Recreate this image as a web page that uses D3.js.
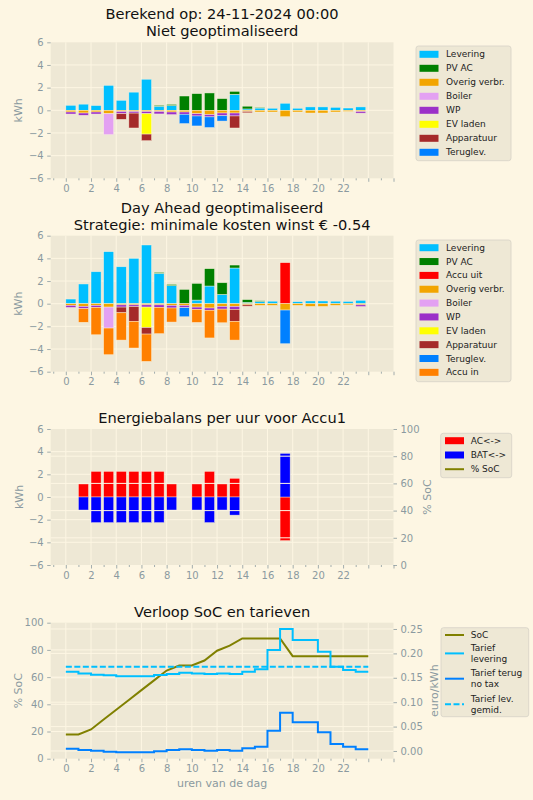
<!DOCTYPE html>
<html>
<head>
<meta charset="utf-8">
<script src="https://cdn.jsdelivr.net/npm/d3@7"></script>
<style>
body { margin: 0; background: #fdf6e3; }
text { font-family: "DejaVu Sans", sans-serif; }
</style>
</head>
<body>
<script>
// gegevens per uur
var uren = [0,1,2,3,4,5,6,7,8,9,10,11,12,13,14,15,16,17,18,19,20,21,22,23]

// Niet geoptimaliseerd (kWh)
var levering1  = [0.44,0.54,0.42,2.2,0.88,1.6,2.74,0.36,0.42,0,0,0,0,1.41,0.12,0.2,0.18,0.62,0.18,0.3,0.3,0.26,0.2,0.3]
var pvAC       = [0,0,0,0,0,0,0,0.08,0.1,1.26,1.47,1.53,1.03,0.26,0.24,0.06,0,0,0,0,0,0,0,0]
var overig     = [0.15,0.24,0.15,0.3,0.1,0.1,0.1,0.1,0.15,0.15,0.3,0.38,0.24,0.24,0.1,0.15,0.15,0.56,0.15,0.24,0.24,0.15,0.1,0.1]
var boiler     = [0,0,0,1.85,0,0,0,0,0,0,0,0,0,0,0,0,0,0,0,0,0,0,0,0]
var wp         = [0.18,0.2,0.18,0,0.2,0.15,0.2,0.22,0.23,0.2,0.2,0.2,0.24,0.26,0,0,0,0,0,0,0,0,0,0.15]
var evLaden    = [0,0,0,0,0,0,1.8,0,0,0,0,0,0,0,0,0,0,0,0,0,0,0,0,0]
var apparatuur = [0,0,0,0,0.5,1.31,0.58,0,0,0,0,0,0,1.06,0.12,0,0,0,0,0,0,0,0,0]
var teruglev1  = [0,0,0,0,0,0,0,0,0,0.82,0.88,0.94,0.47,0,0,0,0,0,0,0,0,0,0,0]

// Day Ahead geoptimaliseerd (kWh)
var levering2  = [0.41,1.74,2.82,4.59,3.26,4.0,5.18,2.68,1.6,0,0.32,1.56,0.82,3.15,0.12,0.2,0.22,0,0.18,0.24,0.24,0.22,0.2,0.3]
var accuUit    = [0,0,0,0,0,0,0,0,0,0,0,0,0,0,0,0,0,3.62,0,0,0,0,0,0]
var teruglev2  = [0,0,0,0,0,0,0,0,0,0.8,0,0,0,0,0,0,0,2.97,0,0,0,0,0,0]
var accuIn     = [0,1.2,2.41,2.35,2.41,2.35,2.41,2.32,1.24,0,1.15,2.44,1.2,1.65,0,0,0,0,0,0,0,0,0,0]

// Energiebalans Accu1 (kWh)
var acBal  = [0,1.15,2.26,2.26,2.26,2.26,2.26,2.26,1.15,0,1.15,2.26,1.15,1.65,0,0,0,-3.85,0,0,0,0,0,0]
var batBal = [0,-1.15,-2.26,-2.26,-2.26,-2.26,-2.26,-2.26,-1.15,0,-1.15,-2.26,-1.15,-1.6,0,0,0,3.85,0,0,0,0,0,0]

// SoC (%) op uurgrenzen 0..24
var socUren = [0,1,2,3,4,5,6,7,8,9,10,11,12,13,14,15,16,17,18,19,20,21,22,23,24]
var soc = [17.8,17.8,21.5,28.8,36,43.2,50.4,57.6,64.8,68.5,68.5,72.2,79.4,83.1,88.4,88.4,88.4,88.4,75.4,75.4,75.4,75.4,75.4,75.4,75.4]

// tarieven (euro/kWh)
var tariefLev   = [0.1626,0.159,0.1564,0.155,0.153,0.153,0.153,0.1557,0.1578,0.1605,0.159,0.1578,0.159,0.1578,0.1626,0.1673,0.207,0.25,0.2275,0.2275,0.2036,0.1728,0.166,0.1626]
var tariefTerug = [0.0048,0.002,0.0007,-0.0014,-0.0027,-0.0027,-0.0027,-0.0007,0.002,0.0034,0.002,0.0007,0.002,0.0007,0.0055,0.0089,0.0417,0.0786,0.0587,0.0587,0.0383,0.0143,0.0089,0.0034]
var tariefGem = 0.1728

var kwhTicks = [-6,-4,-2,0,2,4,6]
var pctTicks = [0,20,40,60,80,100]
var euroTicks = [0,0.05,0.1,0.15,0.2,0.25]
var xMajor = [0,2,4,6,8,10,12,14,16,18,20,22,24,26]
var xMinor = [-1,1,3,5,7,9,11,13,15,17,19,21,23,25]

// kleuren
var kleur = {
    'Levering': '#00bfff', 'PV AC': '#008000', 'Accu uit': '#ff0000',
    'Overig verbr.': '#f2a500', 'Boiler': '#e3a1f2', 'WP': '#9b30c8',
    'EV laden': '#ffff00', 'Apparatuur': '#a52a2a', 'Teruglev.': '#0080ff',
    'Accu in': '#ff8000'
}
var grijs = '#8b9aa0'

//lienzo
var W = 533, H = 800
var left = 50.7, right = 393.5
var svg = d3.select('body').append('svg')
    .attr('width', W).attr('height', H)
    .style('background', '#fdf6e3')

var x = d3.scaleLinear().domain([-1.2, 26]).range([left, right])

function makePanel(top, bottom) {
    var g = svg.append('g')
    g.append('rect')
        .attr('x', left).attr('y', top)
        .attr('width', right - left).attr('height', bottom - top)
        .attr('fill', '#eee8d5')
    g.append('g').attr('class', 'grid')
    g.append('g').attr('class', 'marks')
    g.append('g').attr('class', 'grid2')
    return g
}

function hGrid(g, sel, y, vals) {
    g.select(sel).selectAll(null).data(vals).enter().append('line')
        .attr('x1', left).attr('x2', right)
        .attr('y1', d => y(d)).attr('y2', d => y(d))
        .attr('stroke', '#fdf6e3').attr('stroke-width', 1)
}

function vGrid(g, top, bottom) {
    g.select('.grid').selectAll(null).data(xMajor.filter(d => d < 26)).enter().append('line')
        .attr('x1', d => x(d)).attr('x2', d => x(d))
        .attr('y1', top).attr('y2', bottom)
        .attr('stroke', '#fdf6e3').attr('stroke-width', 1)
}

function styleAxis(a) {
    a.select('.domain').remove()
    a.selectAll('line').attr('stroke', grijs).attr('stroke-width', 0.8)
    a.selectAll('text').attr('fill', grijs).style('font-size', '10px')
        .style('font-family', '"DejaVu Sans", sans-serif')
}

function xAxis(bottom) {
    var major = d3.axisBottom(x).tickValues(xMajor).tickSize(3.5).tickPadding(3)
        .tickFormat(d => d <= 22 ? d : '')
    var minor = d3.axisBottom(x).tickValues(xMinor).tickSize(2).tickFormat('')
    styleAxis(svg.append('g').attr('transform', 'translate(0,' + bottom + ')').call(major))
    styleAxis(svg.append('g').attr('transform', 'translate(0,' + bottom + ')').call(minor))
}

function yAxisLeft(y, ticks, fmt) {
    var ax = d3.axisLeft(y).tickValues(ticks).tickSize(3.5).tickPadding(3.5)
    if (fmt) ax.tickFormat(fmt)
    styleAxis(svg.append('g').attr('transform', 'translate(' + left + ',0)').call(ax))
}

function yAxisRight(y, ticks, fmt) {
    var ax = d3.axisRight(y).tickValues(ticks).tickSize(3.5).tickPadding(3.5)
    if (fmt) ax.tickFormat(fmt)
    styleAxis(svg.append('g').attr('transform', 'translate(' + right + ',0)').call(ax))
}

function axLabel(txt, px, py, rot) {
    svg.append('text').attr('x', px).attr('y', py)
        .attr('transform', rot ? 'rotate(-90,' + px + ',' + py + ')' : null)
        .attr('text-anchor', 'middle').attr('dominant-baseline', 'central')
        .attr('fill', grijs).style('font-size', '11px').text(txt)
}

// titel van een of twee regels
function title(regels, py) {
    regels.forEach(function(r, i) {
        svg.append('text').attr('x', (left + right) / 2).attr('y', py + i * 17.1)
            .attr('text-anchor', 'middle').attr('fill', '#111')
            .style('font-size', '14.6px').text(r)
    })
}

function legend(bx, by, bw, bh, items) {
    var g = svg.append('g')
    g.append('rect').attr('x', bx).attr('y', by).attr('width', bw).attr('height', bh)
        .attr('rx', 2.5).attr('fill', '#eee8d5').attr('stroke', '#d6d2c6').attr('stroke-width', 0.8)
    items.forEach(function(it) {
        if (it.type == 'rect') {
            g.append('rect').attr('x', it.sx).attr('y', it.y - 3.5).attr('width', 19).attr('height', 7)
                .attr('fill', it.color)
        } else {
            g.append('line').attr('x1', it.sx).attr('x2', it.sx + 19)
                .attr('y1', it.y).attr('y2', it.y)
                .attr('stroke', it.color).attr('stroke-width', 2)
                .attr('stroke-dasharray', it.type == 'dash' ? '6,2.5' : null)
        }
        var lines = [].concat(it.label)
        lines.forEach(function(l, i) {
            g.append('text').attr('x', it.tx)
                .attr('y', it.y + (i - (lines.length - 1) / 2) * 11.3)
                .attr('dominant-baseline', 'central').attr('fill', '#222')
                .style('font-size', '9px').text(l)
        })
    })
}

function stackedPanel(top, bottom, series) {
    var y = d3.scaleLinear().domain([-6, 6]).range([bottom, top])
    var g = makePanel(top, bottom)
    vGrid(g, top, bottom)
    hGrid(g, '.grid', y, [-4, -2, 0, 2, 4])

    var keys = series.map(s => s.key)
    var rows = uren.map(function(h, i) {
        var r = { uur: h }
        series.forEach(s => { r[s.key] = s.sign * s.values[i] })
        return r
    })
    var stacked = d3.stack().keys(keys).offset(d3.stackOffsetDiverging)(rows)

    g.select('.marks').selectAll('g').data(stacked).enter().append('g')
        .attr('fill', d => kleur[d.key])
        .selectAll('rect')
        .data(d => d.filter(p => p[1] != p[0]))
        .enter().append('rect')
        .attr('x', d => x(d.data.uur))
        .attr('width', x(0.8) - x(0))
        .attr('y', d => y(Math.max(d[0], d[1])))
        .attr('height', d => Math.abs(y(d[0]) - y(d[1])))
        .attr('stroke', '#fdf6e3').attr('stroke-width', 0.6).attr('stroke-opacity', 0.7)

    xAxis(bottom)
    yAxisLeft(y, kwhTicks)
    axLabel('kWh', 19, (top + bottom) / 2, true)
}

// Paneel 1: Niet geoptimaliseerd
title(['Berekend op: 24-11-2024 00:00', 'Niet geoptimaliseerd'], 19.1)
stackedPanel(42.3, 178.3, [
    { key: 'Levering', sign: 1, values: levering1 },
    { key: 'PV AC', sign: 1, values: pvAC },
    { key: 'Overig verbr.', sign: -1, values: overig },
    { key: 'Boiler', sign: -1, values: boiler },
    { key: 'WP', sign: -1, values: wp },
    { key: 'EV laden', sign: -1, values: evLaden },
    { key: 'Apparatuur', sign: -1, values: apparatuur },
    { key: 'Teruglev.', sign: -1, values: teruglev1 }
])
var leg1 = ['Levering', 'PV AC', 'Overig verbr.', 'Boiler', 'WP', 'EV laden', 'Apparatuur', 'Teruglev.']
legend(416, 46, 95, 114.7, leg1.map((k, i) => ({
    type: 'rect', color: kleur[k], label: k, y: 54.3 + i * 14, sx: 419.5, tx: 446
})))

// Paneel 2: Day Ahead geoptimaliseerd
title(['Day Ahead geoptimaliseerd', 'Strategie: minimale kosten winst € -0.54'], 213.3)
stackedPanel(235.7, 371.7, [
    { key: 'Levering', sign: 1, values: levering2 },
    { key: 'PV AC', sign: 1, values: pvAC },
    { key: 'Accu uit', sign: 1, values: accuUit },
    { key: 'Overig verbr.', sign: -1, values: overig },
    { key: 'Boiler', sign: -1, values: boiler },
    { key: 'WP', sign: -1, values: wp },
    { key: 'EV laden', sign: -1, values: evLaden },
    { key: 'Apparatuur', sign: -1, values: apparatuur },
    { key: 'Teruglev.', sign: -1, values: teruglev2 },
    { key: 'Accu in', sign: -1, values: accuIn }
])
var leg2 = ['Levering', 'PV AC', 'Accu uit', 'Overig verbr.', 'Boiler', 'WP', 'EV laden', 'Apparatuur', 'Teruglev.', 'Accu in']
legend(416, 240, 95, 141.7, leg2.map((k, i) => ({
    type: 'rect', color: kleur[k], label: k, y: 247.7 + i * 13.85, sx: 419.5, tx: 446
})))

// Paneel 3: Energiebalans per uur voor Accu1
title(['Energiebalans per uur voor Accu1'], 423.3)
var top3 = 429, bot3 = 565
var y3 = d3.scaleLinear().domain([-6, 6]).range([bot3, top3])
var y3r = d3.scaleLinear().domain([0, 100]).range([bot3, top3])
var p3 = makePanel(top3, bot3)
vGrid(p3, top3, bot3)
hGrid(p3, '.grid', y3, [-4, -2, 0, 2, 4])
hGrid(p3, '.grid2', y3r, [20, 40, 60, 80])
var balans = [{ naam: 'AC<->', kl: '#ff0000', v: acBal }, { naam: 'BAT<->', kl: '#0000ff', v: batBal }]
balans.forEach(function(s) {
    p3.select('.marks').append('g').selectAll('rect')
        .data(uren.filter(h => s.v[h] != 0))
        .enter().append('rect')
        .attr('x', h => x(h)).attr('width', x(0.8) - x(0))
        .attr('y', h => y3(Math.max(0, s.v[h])))
        .attr('height', h => Math.abs(y3(s.v[h]) - y3(0)))
        .attr('fill', s.kl)
        .attr('stroke', '#fdf6e3').attr('stroke-width', 0.6).attr('stroke-opacity', 0.7)
})
xAxis(bot3)
yAxisLeft(y3, kwhTicks)
yAxisRight(y3r, pctTicks)
axLabel('kWh', 19, (top3 + bot3) / 2, true)
axLabel('% SoC', 427, (top3 + bot3) / 2, true)
legend(440.7, 433.3, 71, 44.4, [
    { type: 'rect', color: '#ff0000', label: 'AC<->', y: 440.7, sx: 445, tx: 470.7 },
    { type: 'rect', color: '#0000ff', label: 'BAT<->', y: 455, sx: 445, tx: 470.7 },
    { type: 'line', color: '#808000', label: '% SoC', y: 469.2, sx: 445, tx: 470.7 }
])

// Paneel 4: Verloop SoC en tarieven
title(['Verloop SoC en tarieven'], 616.7)
var top4 = 622.7, bot4 = 758.7
var y4 = d3.scaleLinear().domain([0, 100]).range([bot4, top4])
var y4r = d3.scaleLinear().domain([-0.0158, 0.2629]).range([bot4, top4])
var p4 = makePanel(top4, bot4)
vGrid(p4, top4, bot4)
hGrid(p4, '.grid', y4, [20, 40, 60, 80])
hGrid(p4, '.grid', y4r, [0, 0.05, 0.1, 0.15, 0.2, 0.25])

var socLine = d3.line().x(d => x(d[0])).y(d => y4(d[1]))
p4.select('.marks').append('path')
    .attr('d', socLine(socUren.map((h, i) => [h, soc[i]])))
    .attr('fill', 'none').attr('stroke', '#808000').attr('stroke-width', 2)

var stap = d3.line().curve(d3.curveStepAfter).x(d => x(d[0])).y(d => y4r(d[1]))
function stapPunten(v) {
    var pts = uren.map((h, i) => [h, v[i]])
    pts.push([24, v[v.length - 1]])
    return pts
}
p4.select('.marks').append('path')
    .attr('d', stap(stapPunten(tariefLev)))
    .attr('fill', 'none').attr('stroke', '#00bfff').attr('stroke-width', 2)
p4.select('.marks').append('path')
    .attr('d', stap(stapPunten(tariefTerug)))
    .attr('fill', 'none').attr('stroke', '#0080ff').attr('stroke-width', 2)
p4.select('.marks').append('path')
    .attr('d', stap([[0, tariefGem], [24, tariefGem]]))
    .attr('fill', 'none').attr('stroke', '#00bfff').attr('stroke-width', 2)
    .attr('stroke-dasharray', '6,2.5')

xAxis(bot4)
yAxisLeft(y4, pctTicks)
yAxisRight(y4r, euroTicks, d3.format('.2f'))
axLabel('% SoC', 19, (top4 + bot4) / 2, true)
axLabel('euro/kWh', 435, (top4 + bot4) / 2, true)
axLabel('uren van de dag', (left + right) / 2, 783, false)
legend(441, 627.7, 87.7, 89, [
    { type: 'line', color: '#808000', label: 'SoC', y: 635, sx: 445, tx: 470.7 },
    { type: 'line', color: '#00bfff', label: ['Tarief', 'levering'], y: 653.4, sx: 445, tx: 470.7 },
    { type: 'line', color: '#0080ff', label: ['Tarief terug', 'no tax'], y: 678.7, sx: 445, tx: 470.7 },
    { type: 'dash', color: '#00bfff', label: ['Tarief lev.', 'gemid.'], y: 704.2, sx: 445, tx: 470.7 }
])
</script>
</body>
</html>
